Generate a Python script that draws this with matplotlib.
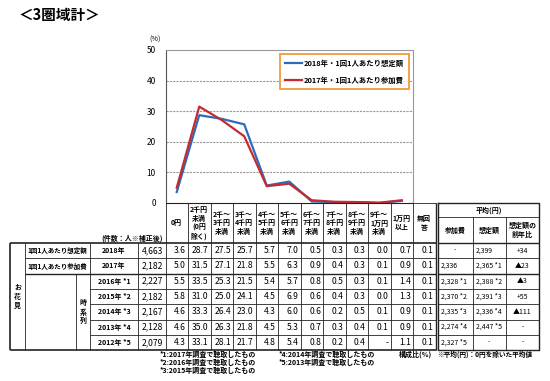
"""
Hanami spending survey (3 areas total): distribution chart with table below.
"""

import numpy as np
import matplotlib
matplotlib.use("Agg")
import matplotlib.pyplot as plt

plt.rcParams["font.family"] = ["Noto Sans CJK JP", "DejaVu Sans"]

# ---- data -------------------------------------------------------------
categories = [
    "0円", "2千円\n未満\n(0円\n除く)", "2千～\n3千円\n未満", "3千～\n4千円\n未満",
    "4千～\n5千円\n未満", "5千～\n6千円\n未満", "6千～\n7千円\n未満", "7千～\n8千円\n未満",
    "8千～\n9千円\n未満", "9千～\n1万円\n未満", "1万円\n以上", "無回\n答",
]
row_years = ["2018年", "2017年", "2016年 *1", "2015年 *2", "2014年 *3", "2013年 *4", "2012年 *5"]
row_counts = ["4,663", "2,182", "2,227", "2,182", "2,167", "2,128", "2,079"]
share_2018 = [3.6, 28.7, 27.5, 25.7, 5.7, 7.0, 0.5, 0.3, 0.3, 0.0, 0.7, 0.1]
share_2017 = [5.0, 31.5, 27.1, 21.8, 5.5, 6.3, 0.9, 0.4, 0.3, 0.1, 0.9, 0.1]
share_2016 = [5.5, 33.5, 25.3, 21.5, 5.4, 5.7, 0.8, 0.5, 0.3, 0.1, 1.4, 0.1]
share_2015 = [5.8, 31.0, 25.0, 24.1, 4.5, 6.9, 0.6, 0.4, 0.3, 0.0, 1.3, 0.1]
share_2014 = [4.6, 33.3, 26.4, 23.0, 4.3, 6.0, 0.6, 0.2, 0.5, 0.1, 0.9, 0.1]
share_2013 = [4.6, 35.0, 26.3, 21.8, 4.5, 5.3, 0.7, 0.3, 0.4, 0.1, 0.9, 0.1]
share_2012 = [4.3, 33.1, 28.1, 21.7, 4.8, 5.4, 0.8, 0.2, 0.4, None, 1.1, 0.1]
avg_fee = ["-", "2,336", "2,328 *1", "2,370 *2", "2,335 *3", "2,274 *4", "2,327 *5"]
avg_budget = ["2,399", "2,365 *1", "2,388 *2", "2,391 *3", "2,336 *4", "2,447 *5", "-"]
avg_change = ["+34", "▲23", "▲3", "+55", "▲111", "-", "-"]

BLUE = "#2B6CB8"
RED = "#C62A2E"
ORANGE = "#F08A1C"

# ---- layout (figure pixels) -------------------------------------------
W, H = 550, 381
X0, COL_W = 165.5, 22.5
HEAD_TOP, ROW_TOP, ROW_H = 203, 243, 15.3
N_ROWS = len(row_years)
BOTTOM = ROW_TOP + N_ROWS * ROW_H
RIGHT = X0 + len(categories) * COL_W
FS_NUM, FS_LAB = 6.2, 5.0

fig = plt.figure(figsize=(W / 100, H / 100), dpi=100)
tab = fig.add_axes([0, 0, 1, 1])
tab.set_xlim(0, W)
tab.set_ylim(H, 0)
tab.axis("off")


def hline(y, x1, x2, lw=0.6):
    tab.plot([x1, x2], [y, y], color="#222222", lw=lw, solid_capstyle="butt")


def vline(x, y1, y2, lw=0.6):
    tab.plot([x, x], [y1, y2], color="#222222", lw=lw, solid_capstyle="butt")


# ---- line chart ---------------------------------------------------------
n_plot = 11
ax = fig.add_axes([X0 / W, 1 - HEAD_TOP / H, n_plot * COL_W / W, (HEAD_TOP - 50) / H])
ax.patch.set_alpha(0)
xs = np.arange(n_plot) + 0.5
ax.plot(xs, share_2018[:n_plot], color=BLUE, lw=1.6, label="2018年・1回1人あたり想定額")
ax.plot(xs, share_2017[:n_plot], color=RED, lw=1.6, label="2017年・1回1人あたり参加費")
ax.set_xlim(0, n_plot)
ax.set_ylim(0, 50)
ax.set_yticks([0, 10, 20, 30, 40, 50])
ax.set_xticks([])
ax.tick_params(axis="y", length=0, pad=7, labelsize=6)
for v in [10, 20, 30, 40]:
    ax.axhline(v, color="#999999", lw=0.8, ls=(0, (2, 1)), zorder=0)
for side in ["top", "right"]:
    ax.spines[side].set_color("#999999")
ax.spines["left"].set_color("#555555")
ax.spines["bottom"].set_color("#222222")
ax.text(-0.02, 1.07, "(%)", transform=ax.transAxes, fontsize=5.2, ha="right", va="center")
leg = ax.legend(loc="upper right", bbox_to_anchor=(0.985, 0.975), fontsize=5.3,
                frameon=True, fancybox=False, borderaxespad=0, handlelength=2.3,
                handletextpad=0.3, labelspacing=1.35, borderpad=0.7)
leg.get_frame().set_edgecolor(ORANGE)
leg.get_frame().set_linewidth(1.4)
for t in leg.get_texts():
    t.set_fontweight("bold")

# ---- title ----------------------------------------------------------------
tab.text(19, 15, "＜3圏域計＞", fontsize=10.5, fontweight="bold", va="center", ha="left")

# ---- column header --------------------------------------------------------
for i, c in enumerate(categories):
    tab.text(X0 + (i + 0.5) * COL_W, (HEAD_TOP + ROW_TOP) / 2, c, fontsize=FS_LAB,
             fontweight="bold", ha="center", va="center", linespacing=1.25)
for i in range(1, len(categories) + 1):
    vline(X0 + i * COL_W, HEAD_TOP, BOTTOM)
vline(X0, HEAD_TOP, BOTTOM)
hline(HEAD_TOP, X0 + n_plot * COL_W, RIGHT)
tab.text(163, 238, "(件数：人※補正後)", fontsize=FS_LAB, fontweight="bold", ha="right", va="center")

# ---- left table body ------------------------------------------------------
rows = [share_2018, share_2017, share_2016, share_2015, share_2014, share_2013, share_2012]
hline(ROW_TOP, 10, RIGHT, lw=1.2)
hline(BOTTOM, 10, RIGHT, lw=1.2)
vline(10, ROW_TOP, BOTTOM, lw=1.2)
vline(RIGHT, HEAD_TOP, BOTTOM, lw=1.0)
vline(25, ROW_TOP, BOTTOM)
vline(90, ROW_TOP, BOTTOM)
vline(76, ROW_TOP + 2 * ROW_H, BOTTOM)
vline(138, ROW_TOP, BOTTOM)
for r in range(1, N_ROWS):
    hline(ROW_TOP + r * ROW_H, 25 if r <= 2 else 90, RIGHT, lw=1.0 if r == 2 else 0.6)

tab.text(17.5, ROW_TOP + 3.5 * ROW_H, "お\n花\n見", fontsize=FS_LAB, fontweight="bold",
         ha="center", va="center", linespacing=1.4)
tab.text(83, ROW_TOP + 4.5 * ROW_H, "時\n系\n列", fontsize=FS_LAB, fontweight="bold",
         ha="center", va="center", linespacing=1.3)
tab.text(27, ROW_TOP + 0.5 * ROW_H, "1回1人あたり想定額", fontsize=4.7, fontweight="bold", va="center")
tab.text(27, ROW_TOP + 1.5 * ROW_H, "1回1人あたり参加費", fontsize=4.7, fontweight="bold", va="center")

for r, vals in enumerate(rows):
    yc = ROW_TOP + (r + 0.5) * ROW_H
    tab.text(114, yc, row_years[r], fontsize=FS_LAB, fontweight="bold", ha="center", va="center")
    tab.text(163, yc, row_counts[r], fontsize=FS_NUM, ha="right", va="center")
    for i, v in enumerate(vals):
        s = "-" if v is None else f"{v:.1f}"
        tab.text(X0 + (i + 1) * COL_W - 2, yc, s, fontsize=FS_NUM, ha="right", va="center")

# ---- right table (averages) -----------------------------------------------
RX = [438, 472.5, 506, 539]
tab.plot([RX[0], RX[3], RX[3], RX[0], RX[0]], [HEAD_TOP, HEAD_TOP, BOTTOM, BOTTOM, HEAD_TOP],
         color="#222222", lw=1.0)
hline(217, RX[0], RX[3])
hline(ROW_TOP, RX[0], RX[3], lw=1.0)
for x in RX[1:3]:
    vline(x, 217, BOTTOM)
for r in range(1, N_ROWS):
    hline(ROW_TOP + r * ROW_H, RX[0], RX[3], lw=1.0 if r == 2 else 0.6)
tab.text((RX[0] + RX[3]) / 2, 210, "平均(円)", fontsize=FS_LAB, fontweight="bold", ha="center", va="center")
for j, h in enumerate(["参加費", "想定額", "想定額の\n前年比"]):
    tab.text((RX[j] + RX[j + 1]) / 2, 230, h, fontsize=FS_LAB, fontweight="bold",
             ha="center", va="center", linespacing=1.3)
for r in range(N_ROWS):
    yc = ROW_TOP + (r + 0.5) * ROW_H
    for j, col in enumerate([avg_fee, avg_budget]):
        s = col[r]
        if s == "-":
            tab.text((RX[j] + RX[j + 1]) / 2, yc, s, fontsize=FS_LAB, ha="center", va="center")
        else:
            tab.text(RX[j] + 3, yc, s, fontsize=FS_LAB, ha="left", va="center")
    tab.text((RX[2] + RX[3]) / 2, yc, avg_change[r], fontsize=FS_LAB, ha="center", va="center")

# ---- footnotes --------------------------------------------------------------
notes_left = ["*1:2017年調査で聴取したもの", "*2:2016年調査で聴取したもの", "*3:2015年調査で聴取したもの"]
notes_mid = ["*4:2014年調査で聴取したもの", "*5:2013年調査で聴取したもの"]
for k, s in enumerate(notes_left):
    tab.text(160, 354 + k * 8, s, fontsize=FS_LAB, fontweight="bold", va="center")
for k, s in enumerate(notes_mid):
    tab.text(279, 354 + k * 8, s, fontsize=FS_LAB, fontweight="bold", va="center")
tab.text(432, 354, "構成比(%)", fontsize=FS_LAB, fontweight="bold", ha="right", va="center")
tab.text(437, 354, "※平均(円)：0円を除いた平均値", fontsize=4.8, fontweight="bold", va="center")

fig.savefig("out.png", dpi=100)
